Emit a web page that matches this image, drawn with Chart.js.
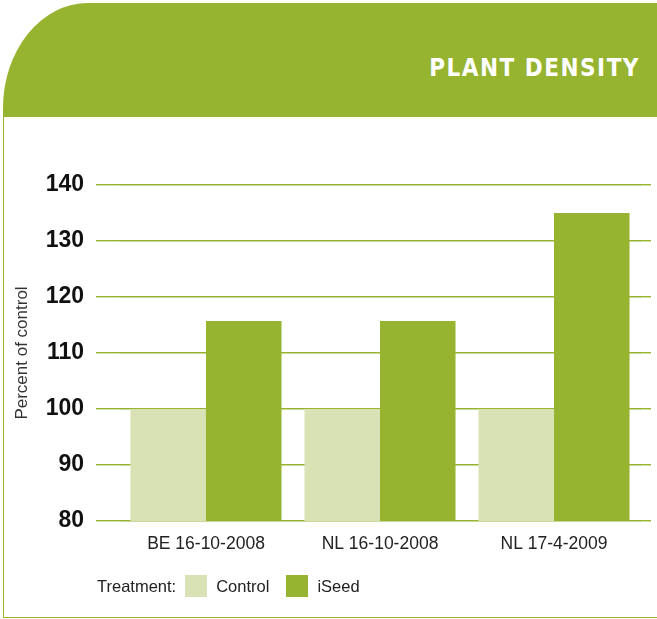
<!DOCTYPE html>
<html>
<head>
<meta charset="utf-8">
<script src="https://cdn.jsdelivr.net/npm/chart.js@4"></script>
<style>
  html, body { margin: 0; padding: 0; background: #fff; }
  body { width: 657px; height: 619px; position: relative; overflow: hidden; font-family: "Liberation Sans", Arial, sans-serif; }
  .header {
    position: absolute; left: 3px; top: 3px; width: 654px; height: 114px;
    background: #97b431; border-top-left-radius: 85px 105px;
  }
  .header h1 {
    position: absolute; right: 17px; top: 50px; margin: 0;
    font: bold 24px "Liberation Sans Narrow", "DejaVu Sans Condensed", sans-serif;
    letter-spacing: 1.5px; color: #fff; line-height: 30px;
  }
  .frame-left { position: absolute; left: 3px; top: 117px; width: 1px; height: 501px; background: #97b431; }
  .frame-bottom { position: absolute; left: 3px; top: 617px; width: 654px; height: 1px; background: #97b431; }
  .chart-wrap { position: absolute; left: 0; top: 117px; width: 657px; height: 463px; }
  .legend { position: absolute; left: 97px; top: 574px; height: 24px; display: flex; align-items: center; font-size: 16.5px; color: #222; }
  .legend .box { width: 22px; height: 22px; display: inline-block; }
  .legend span { margin-right: 9px; }
</style>
</head>
<body>
<div class="header"><h1>PLANT DENSITY</h1></div>
<div class="frame-left"></div>
<div class="frame-bottom"></div>
<div class="chart-wrap"><canvas id="chartDensity" width="657" height="463"></canvas></div>
<div class="legend" id="legend"></div>

<script>
// ── Data ─────────────────────────────────────────────────────────────────────
const categories   = ['BE 16-10-2008', 'NL 16-10-2008', 'NL 17-4-2009'];
const controlVals  = [100, 100, 100];
const iseedVals    = [115.7, 115.7, 135];
const seriesNames  = ['Control', 'iSeed'];
const yTicks       = [80, 90, 100, 110, 120, 130, 140];

const GREEN = '#97b431';
const PALE  = '#d8e2b4';
const GRID_W = 1.4;

// grid lines run a bit past the right edge of the plot
const gridExtend = {
  id: 'gridExtend',
  beforeDatasetsDraw(chart) {
    const { ctx, chartArea, scales: { y } } = chart;
    ctx.save();
    ctx.strokeStyle = GREEN;
    ctx.lineWidth = GRID_W;
    for (const v of yTicks) {
      const py = Math.round(y.getPixelForValue(v) - GRID_W / 2) + GRID_W / 2;  // same snapping as Chart.js
      ctx.beginPath();
      ctx.moveTo(chartArea.right - 1, py);
      ctx.lineTo(chartArea.right + 10, py);
      ctx.stroke();
    }
    ctx.restore();
  },
};

new Chart(document.getElementById('chartDensity'), {
  type: 'bar',
  data: {
    labels: categories,
    datasets: [
      { label: seriesNames[0], data: controlVals, backgroundColor: PALE, borderWidth: 0 },
      { label: seriesNames[1], data: iseedVals, backgroundColor: GREEN, borderWidth: 0 },
    ],
  },
  options: {
    responsive: false,
    animation: false,
    layout: { padding: { left: 12, right: 16, top: 68, bottom: 12 } },
    datasets: { bar: { categoryPercentage: 0.868, barPercentage: 1.0 } },
    plugins: { legend: { display: false }, tooltip: { enabled: false } },
    scales: {
      x: {
        afterFit: s => { s.height = 47; },
        grid: { display: false, drawTicks: false },
        border: { display: false },
        ticks: { color: '#222', font: { family: 'Liberation Sans', size: 17.5 }, padding: 13 },
      },
      y: {
        min: 80, max: 140,
        alignToPixels: true,
        afterFit: s => { s.width = 107; },
        afterBuildTicks: s => { s.ticks = yTicks.map(v => ({ value: v })); },
        grid: { color: GREEN, lineWidth: GRID_W, tickLength: 23 },
        border: { display: false },
        ticks: { color: '#111', font: { family: 'Liberation Sans', size: 23, weight: 'bold' }, padding: 12 },
        title: {
          display: true, text: 'Percent of control', color: '#333',
          font: { family: 'Liberation Sans', size: 17 }, padding: 0,
        },
      },
    },
  },
  plugins: [gridExtend],
});

// ── Legend ───────────────────────────────────────────────────────────────────
const legendEl = document.getElementById('legend');
legendEl.innerHTML = '<span>Treatment:</span>' +
  seriesNames.map((n, i) =>
    `<i class="box" style="background:${i ? GREEN : PALE}"></i><span style="margin-left:9px;margin-right:17px">${n}</span>`
  ).join('');
</script>
</body>
</html>
